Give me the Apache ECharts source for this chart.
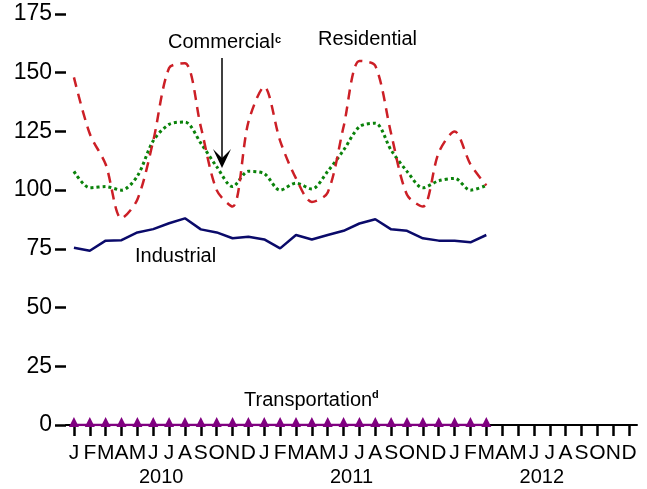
<!DOCTYPE html>
<html>
<head>
<meta charset="utf-8">
<script src="https://cdn.jsdelivr.net/npm/echarts@6/dist/echarts.min.js"></script>
<style>
html,body{margin:0;padding:0;background:#fff;}
#chart{width:647px;height:489px;}
</style>
</head>
<body>
<div id="chart"></div>
<script>
var months = ['J','F','M','A','M','J','J','A','S','O','N','D',
              'J','F','M','A','M','J','J','A','S','O','N','D',
              'J','F','M','A','M','J','J','A','S','O','N','D'];
var years = ['2010','2011','2012'];
var residential = [148,124,111,88,96,121,152,154,127,100,93,129,
                   144,121,105,95,99,127,155,153,124,98,93,116,
                   125,111,102];
var commercial = [108,101,101.5,100,106,121,128,129,120,110,101.5,108,
                  107,100,103,100.5,108,117,127,128.5,117,108,101,104,
                  105,100,102];
var industrial = [75.5,74.2,78.5,78.7,82,83.4,85.9,88,83.3,82,79.5,80.2,
                  79,75.2,80.9,79,80.9,82.7,85.8,87.6,83.3,82.7,79.5,78.5,
                  78.5,77.8,80.9];
var transportation = [0,0,0,0,0,0,0,0,0,0,0,0,
                      0,0,0,0,0,0,0,0,0,0,0,0,
                      0,0,0];
var yTicks = {min:0, max:175, interval:25};

var FONT = '"Liberation Sans", Arial, Helvetica, sans-serif';
var chart = echarts.init(document.getElementById('chart'), null, {renderer:'canvas'});
var option = {
  backgroundColor:'#ffffff',
  animation:false,
  grid:{left:66,right:10,top:14,bottom:64},
  xAxis:[{
    type:'category', data:months, boundaryGap:true, position:'bottom',
    axisLine:{show:true,lineStyle:{color:'#000',width:2}},
    axisTick:{show:true,alignWithLabel:true,length:11,lineStyle:{color:'#000',width:2.5}},
    axisLabel:{interval:0,fontSize:21,fontFamily:FONT,color:'#000',margin:18},
    splitLine:{show:false}
  },{
    type:'category', data:years, boundaryGap:true, position:'bottom', offset:0,
    axisLine:{show:false}, axisTick:{show:false},
    axisLabel:{interval:0,fontSize:20,fontFamily:FONT,color:'#000',margin:42},
    splitLine:{show:false}
  }],
  yAxis:{
    type:'value', min:yTicks.min, max:yTicks.max, interval:yTicks.interval,
    axisLine:{show:false},
    axisTick:{show:true,length:11,lineStyle:{color:'#000',width:2.5}},
    axisLabel:{fontSize:23,fontFamily:FONT,color:'#000',margin:14},
    splitLine:{show:false}
  },
  series:[
    {name:'Industrial',type:'line',data:industrial,showSymbol:false,smooth:false,
     lineStyle:{color:'#0a0a6a',width:2.5},z:3},
    {name:'Commercial',type:'line',data:commercial,showSymbol:false,smooth:0.3,
     lineStyle:{color:'#0a820a',width:3,type:[3,3]},z:4},
    {name:'Residential',type:'line',data:residential,showSymbol:false,smooth:0.3,
     lineStyle:{color:'#cc1f26',width:2.5,type:[10,7]},z:5},
    {name:'Transportation',type:'line',data:transportation,symbol:'triangle',symbolSize:[10,10],
     symbolOffset:[0,-3],showSymbol:true,
     itemStyle:{color:'#800080'},lineStyle:{color:'#800080',width:2.5},z:6}
  ],
  graphic:[
    {type:'text',left:168,top:32,style:{text:'Commercial',font:'20px '+FONT,fill:'#000'}},
    {type:'text',left:275,top:34,style:{text:'c',font:'bold 11px '+FONT,fill:'#000'}},
    {type:'text',left:318,top:29,style:{text:'Residential',font:'20px '+FONT,fill:'#000'}},
    {type:'text',left:135,top:246,style:{text:'Industrial',font:'20px '+FONT,fill:'#000'}},
    {type:'text',left:244,top:390,style:{text:'Transportation',font:'20px '+FONT,fill:'#000'}},
    {type:'text',left:372,top:389,style:{text:'d',font:'bold 11px '+FONT,fill:'#000'}},
    {type:'line',shape:{x1:222,y1:58,x2:222,y2:160},style:{stroke:'#000',lineWidth:1.5}},
    {type:'polygon',shape:{points:[[213,149],[222,168],[231,149],[222,158]]},style:{fill:'#000'}}
  ]
};
chart.setOption(option);
</script>
</body>
</html>
